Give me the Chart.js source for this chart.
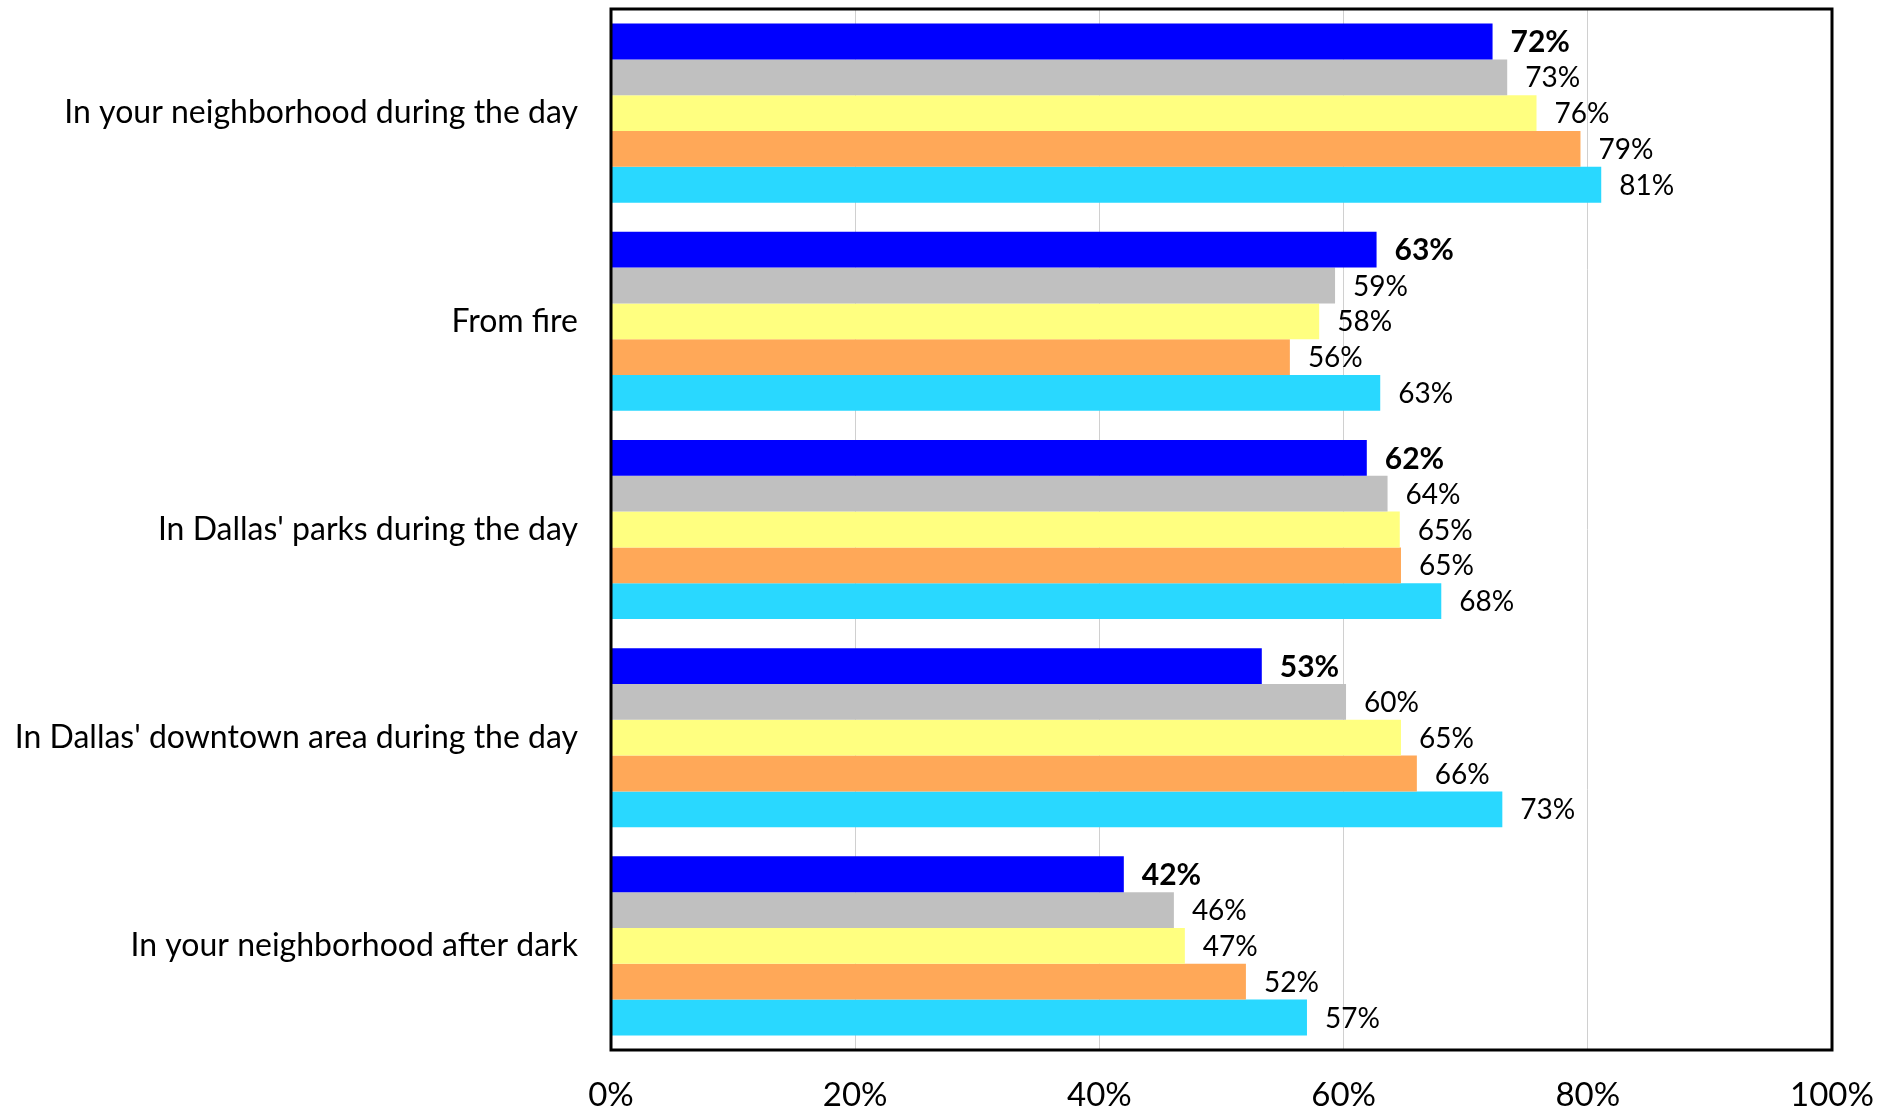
<!DOCTYPE html>
<html>
<head>
<meta charset="utf-8">
<script src="https://cdn.jsdelivr.net/npm/chart.js@4.4.1/dist/chart.umd.min.js"></script>
<style>
    html, body { margin: 0; padding: 0; background: #fff; }
    #wrap { width: 1896px; height: 1108px; }
</style>
</head>
<body>
<div id="wrap"><canvas id="chart"></canvas></div>
<script>
// Categories (top to bottom)
const categories = [
    'In your neighborhood during the day',
    'From fire',
    "In Dallas' parks during the day",
    "In Dallas' downtown area during the day",
    'In your neighborhood after dark'
];

// One array per bar colour, top bar of each group first
const seriesBlue   = [72.2, 62.7, 61.9, 53.3, 42.0];
const seriesGray   = [73.4, 59.3, 63.6, 60.2, 46.1];
const seriesYellow = [75.8, 58.0, 64.6, 64.7, 47.0];
const seriesOrange = [79.4, 55.6, 64.7, 66.0, 52.0];
const seriesCyan   = [81.1, 63.0, 68.0, 73.0, 57.0];

const seriesColors = ['#0000FF', '#C0C0C0', '#FFFF80', '#FFA858', '#29D8FF'];

// Tick labels on the value axis
const tickValues = [0, 20, 40, 60, 80, 100];

const FONT = 'Lato, "Open Sans", sans-serif';

// Frame around the plot area
const framePlugin = {
    id: 'frame',
    afterDraw(chart) {
        const a = chart.chartArea;
        const ctx = chart.ctx;
        ctx.save();
        ctx.strokeStyle = '#000';
        ctx.lineWidth = 3;
        ctx.strokeRect(a.left, a.top, a.right - a.left, a.bottom - a.top);
        ctx.restore();
    }
};

// Value labels to the right of each bar (first series in bold)
const valueLabels = {
    id: 'valueLabels',
    afterDatasetsDraw(chart) {
        const ctx = chart.ctx;
        ctx.save();
        ctx.textBaseline = 'middle';
        ctx.textAlign = 'left';
        ctx.fillStyle = '#000';
        chart.data.datasets.forEach((ds, i) => {
            const meta = chart.getDatasetMeta(i);
            ctx.font = i === 0 ? 'bold 30px ' + FONT : '28px ' + FONT;
            meta.data.forEach((bar, j) => {
                ctx.fillText(Math.round(ds.data[j]) + '%', bar.x + 18, bar.y + 1);
            });
        });
        ctx.restore();
    }
};

const ctx = document.getElementById('chart').getContext('2d');

new Chart(ctx, {
    type: 'bar',
    data: {
        labels: categories,
        datasets: [
            { label: 'Series 1', data: seriesBlue },
            { label: 'Series 2', data: seriesGray },
            { label: 'Series 3', data: seriesYellow },
            { label: 'Series 4', data: seriesOrange },
            { label: 'Series 5', data: seriesCyan }
        ].map((d, i) => Object.assign(d, {
            backgroundColor: seriesColors[i],
            borderWidth: 0,
            barPercentage: 1,
            categoryPercentage: 0.86
        }))
    },
    options: {
        indexAxis: 'y',
        responsive: true,
        maintainAspectRatio: false,
        animation: false,
        layout: {
            padding: { top: 9, right: 64, bottom: 0, left: 0 }
        },
        scales: {
            x: {
                min: 0,
                max: 100,
                afterBuildTicks(scale) {
                    scale.ticks = tickValues.map(v => ({ value: v }));
                },
                afterFit(scale) {
                    scale.height = 58;
                    scale.paddingLeft = 0;
                    scale.paddingRight = 0;
                },
                ticks: {
                    callback: v => v + '%',
                    color: '#000',
                    font: { family: FONT, size: 33 },
                    padding: 26,
                    maxRotation: 0
                },
                grid: {
                    color: '#D0D0D0',
                    lineWidth: 1,
                    drawTicks: false
                },
                border: { display: false }
            },
            y: {
                afterFit(scale) {
                    scale.width = 611;
                    scale.paddingTop = 0;
                    scale.paddingBottom = 0;
                },
                ticks: {
                    color: '#000',
                    font: { family: FONT, size: 32 },
                    padding: 33
                },
                grid: { display: false, drawTicks: false },
                border: { display: false }
            }
        },
        plugins: {
            legend: { display: false },
            tooltip: { enabled: false }
        }
    },
    plugins: [framePlugin, valueLabels]
});
</script>
</body>
</html>
